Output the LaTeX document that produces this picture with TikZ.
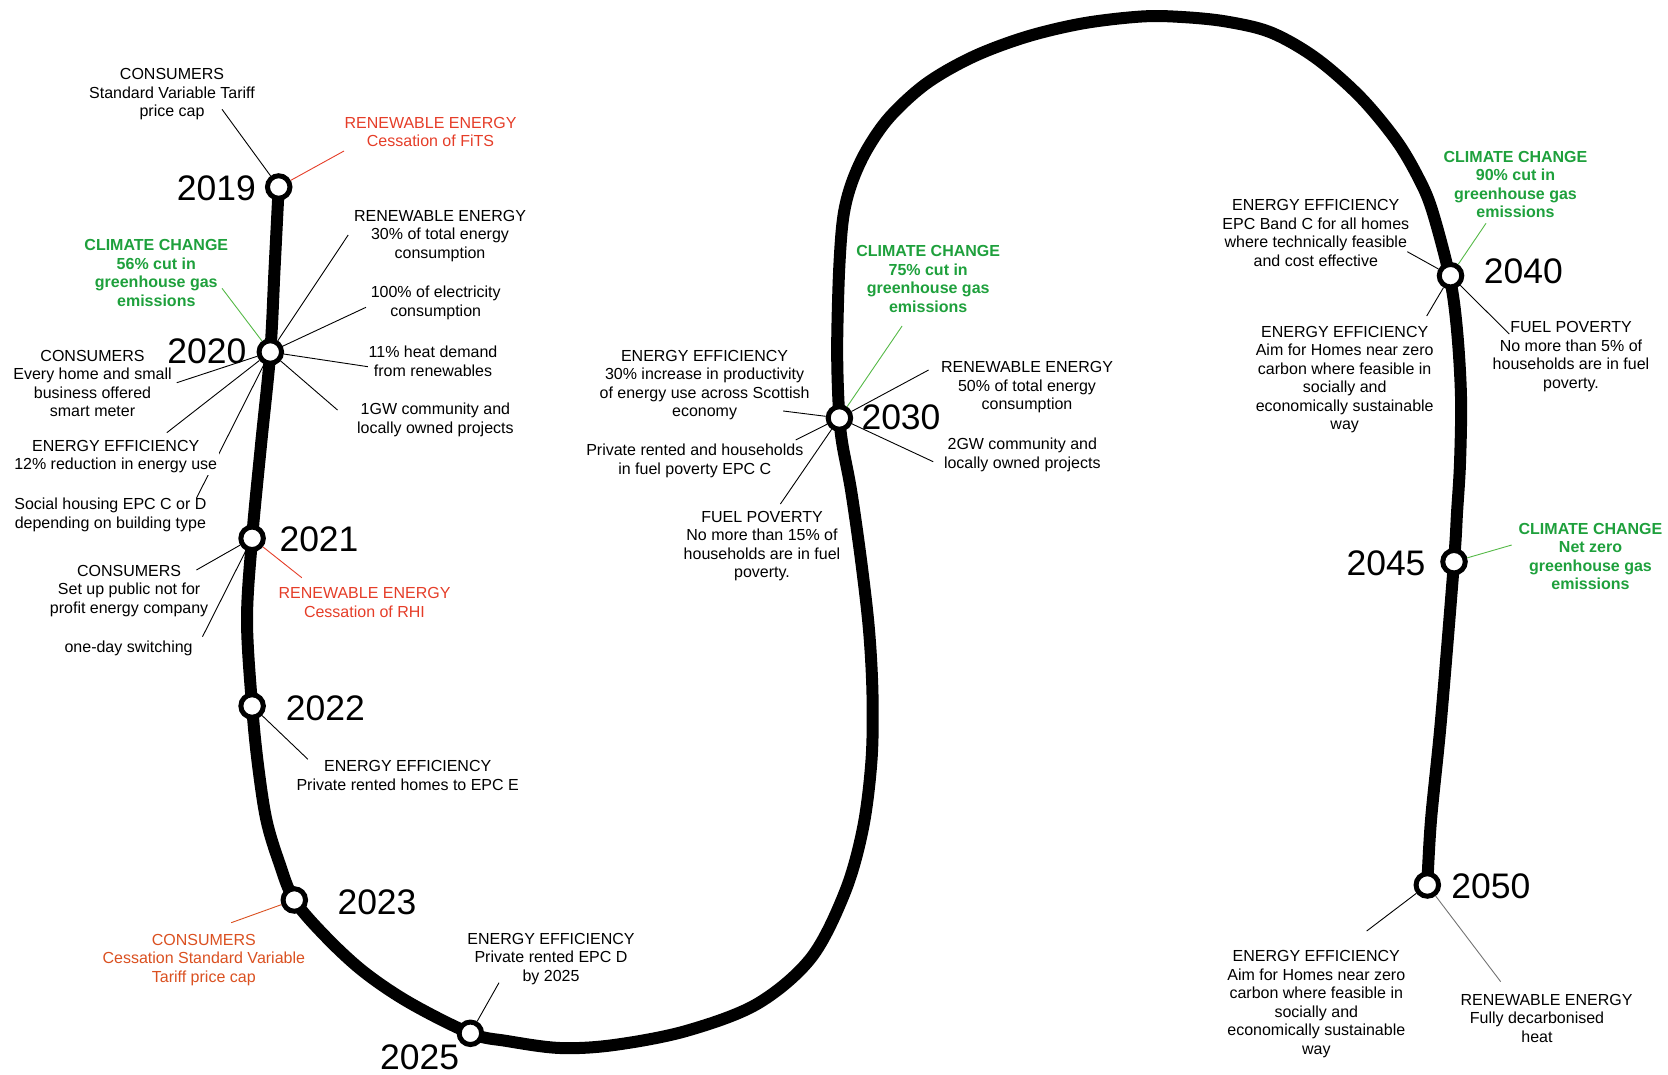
\documentclass[tikz,border=0pt]{standalone}
\usepackage{fontspec}
\setmainfont{Liberation Sans}
\definecolor{rd}{HTML}{E53D28}
\definecolor{org}{HTML}{DA5020}
\definecolor{grn}{HTML}{1EA03C}
\definecolor{grnl}{HTML}{55B947}
\tikzset{
  lbl/.style={font=\fontsize{16}{18.5}\selectfont, align=center, inner sep=2pt},
  cclbl/.style={font=\fontsize{16}{18.5}\selectfont\bfseries, align=center, inner sep=2pt, text=grn},
  yr/.style={font=\fontsize{35.5}{40}\selectfont, inner sep=0pt},
  stn/.style={circle, draw=black, line width=5pt, fill=white, minimum size=22.5pt, inner sep=0pt},
  conn/.style={line width=0.9pt},
  track/.style={line width=12pt, line join=round, line cap=round}
}
\begin{document}
\begin{tikzpicture}[x=1pt,y=-1pt]
\useasboundingbox (0,0) rectangle (1668,1075);
% track
\draw[track] plot[smooth, tension=0.55] coordinates {
 (278.7,187) (274.5,270) (270.3,352) (261,445) (252.1,538) (247,620) (252.1,706)
 (258,765) (266.4,820) (279,862) (294.3,900) (326,937) (364,972) (410,1003) (470.4,1033.3)
 (507,1041) (560,1048) (614,1045) (686,1031) (757,1004) (811,958) (845,892) (863,828)
 (871.5,760) (872.5,695) (869,630) (861,560) (851,490) (842.5,445) (839.4,418)
 (837.5,375) (837.3,333) (839.3,266.7) (843.3,216.7) (851.7,183) (866.7,150) (890,116.7)
 (926.7,83.3) (973.3,56.7) (1026.7,36.7) (1083.3,23.3) (1141.6,16.5) (1181.8,17) (1226,21.5)
 (1271,32.5) (1315.7,58) (1360,96.7) (1396,140) (1418,177) (1432,210) (1449.6,276.7)
 (1457,330) (1461,397) (1460,463) (1457,513) (1454,561.7) (1441,720) (1431,820) (1427.3,885)
};
% stations
\node[stn] (c2019) at (278.7,187) {};
\node[stn] (c2020) at (270.3,352) {};
\node[stn] (c2021) at (252.1,538.3) {};
\node[stn] (c2022) at (252.1,706) {};
\node[stn] (c2023) at (294.3,900) {};
\node[stn] (c2025) at (470.4,1033.3) {};
\node[stn] (c2030) at (839.4,418) {};
\node[stn] (c2040) at (1450.5,275.7) {};
\node[stn] (c2045) at (1454,561.7) {};
\node[stn] (c2050) at (1427.3,885) {};
% years
\node[yr] (y2019) at (216.4,188.3) {2019};
\node[yr] (y2020) at (206.8,351.7) {2020};
\node[yr] (y2021) at (319,539) {2021};
\node[yr] (y2022) at (325.4,708.5) {2022};
\node[yr] (y2023) at (377,902.5) {2023};
\node[yr] (y2025) at (419.7,1057.5) {2025};
\node[yr] (y2030) at (901,417) {2030};
\node[yr] (y2040) at (1523.3,270.8) {2040};
\node[yr] (y2045) at (1386,563.3) {2045};
\node[yr] (y2050) at (1490.8,885.8) {2050};
% connector free ends
\coordinate (e1) at (222,109.3);
\coordinate (e2) at (344,151);
\coordinate (e3) at (348.2,235);
\coordinate (e4) at (366,307.3);
\coordinate (e5) at (367.9,366.7);
\coordinate (e6) at (337.5,410);
\coordinate (e7) at (222,288.3);
\coordinate (e8) at (176.8,382.7);
\coordinate (e9) at (166.8,432.7);
\coordinate (e10) at (196.4,498.3);
\coordinate (e11) at (196.4,570);
\coordinate (e12) at (202.5,636.7);
\coordinate (e13) at (301.8,577.7);
\coordinate (e14) at (307.9,759.3);
\coordinate (e15) at (231.2,922.7);
\coordinate (e16) at (499,982.7);
\coordinate (e17) at (902.1,326);
\coordinate (e18) at (783.2,411);
\coordinate (e19) at (795.7,440);
\coordinate (e20) at (780.4,504);
\coordinate (e21) at (928.6,370);
\coordinate (e22) at (933.2,461.7);
\coordinate (e23) at (1486,223.3);
\coordinate (e24) at (1407.3,251.7);
\coordinate (e25) at (1426.7,316);
\coordinate (e26) at (1509.3,334);
\coordinate (e27) at (1511.7,545);
\coordinate (e28) at (1366.7,931);
\coordinate (e29) at (1500.7,981.7);
% connectors
\draw[conn] (e1) -- (c2019);
\draw[conn, rd] (e2) -- (c2019);
\draw[conn] (e3) -- (c2020);
\draw[conn] (e4) -- (c2020);
\draw[conn] (e5) -- (c2020);
\draw[conn] (e6) -- (c2020);
\draw[conn, grnl] (e7) -- (c2020);
\draw[conn] (e8) -- (c2020);
\draw[conn] (e9) -- (c2020);
\draw[conn] (e10) -- (c2020);
\draw[conn] (e11) -- (c2021);
\draw[conn] (e12) -- (c2021);
\draw[conn, rd] (e13) -- (c2021);
\draw[conn] (e14) -- (c2022);
\draw[conn, org] (e15) -- (c2023);
\draw[conn] (e16) -- (c2025);
\draw[conn, grnl] (e17) -- (c2030);
\draw[conn] (e18) -- (c2030);
\draw[conn] (e19) -- (c2030);
\draw[conn] (e20) -- (c2030);
\draw[conn] (e21) -- (c2030);
\draw[conn] (e22) -- (c2030);
\draw[conn, grnl] (e23) -- (c2040);
\draw[conn] (e24) -- (c2040);
\draw[conn] (e25) -- (c2040);
\draw[conn] (e26) -- (c2040);
\draw[conn, grnl] (e27) -- (c2045);
\draw[conn] (e28) -- (c2050);
\draw[conn, black!55] (e29) -- (c2050);
% labels
\node[lbl] (l1) at (172,94.5) {CONSUMERS\\Standard Variable Tariff\\price cap};
\node[lbl, text=rd] (l2) at (430.5,132.2) {RENEWABLE ENERGY\\Cessation of FiTS};
\node[lbl] (l3) at (440,235.7) {RENEWABLE ENERGY\\30\% of total energy\\consumption};
\node[lbl] (l4) at (435.7,303) {100\% of electricity\\consumption};
\node[lbl] (l5) at (433,361.3) {11\% heat demand\\from renewables};
\node[lbl] (l6) at (435.4,419.7) {1GW community and\\locally owned projects};
\node[cclbl] (l7) at (156.3,273) {CLIMATE CHANGE\\56\% cut in\\greenhouse gas\\emissions};
\node[lbl] (l8) at (92.5,383.7) {CONSUMERS\\Every home and small\\business offered\\smart meter};
\node[lbl, fill=white] (l9) at (115.7,456.8) {ENERGY EFFICIENCY\\12\% reduction in energy use};
\node[lbl] (l10) at (110.4,514.7) {Social housing EPC C or D\\depending on building type};
\node[lbl] (l11) at (129.1,591) {CONSUMERS\\Set up public not for\\profit energy company};
\node[lbl] (l12) at (128.6,648.3) {one-day switching};
\node[lbl, text=rd] (l13) at (364.5,602.5) {RENEWABLE ENERGY\\Cessation of RHI};
\node[lbl] (l14) at (407.7,775.5) {ENERGY EFFICIENCY\\Private rented homes to EPC E};
\node[lbl, text=org] (l15) at (203.8,960) {CONSUMERS\\Cessation Standard Variable\\Tariff price cap};
\node[lbl] (l16) at (551,959) {ENERGY EFFICIENCY\\Private rented EPC D\\by 2025};
\node[cclbl] (l17) at (928.2,279) {CLIMATE CHANGE\\75\% cut in\\greenhouse gas\\emissions};
\node[lbl] (l18) at (704.6,385.2) {ENERGY EFFICIENCY\\30\% increase in productivity\\of energy use across Scottish\\economy};
\node[lbl] (l19) at (694.8,460.8) {Private rented and households\\in fuel poverty EPC C};
\node[lbl] (l20) at (762,546) {FUEL POVERTY\\No more than 15\% of\\households are in fuel\\poverty.};
\node[lbl] (l21) at (1027,387.5) {RENEWABLE ENERGY\\50\% of total energy\\consumption};
\node[lbl] (l22) at (1022.3,454.7) {2GW community and\\locally owned projects};
\node[cclbl] (l23) at (1515.5,184.7) {CLIMATE CHANGE\\90\% cut in\\greenhouse gas\\emissions};
\node[lbl] (l24) at (1315.8,233) {ENERGY EFFICIENCY\\EPC Band C for all homes\\where technically feasible\\and cost effective};
\node[lbl] (l25) at (1344.7,379.5) {ENERGY EFFICIENCY\\Aim for Homes near zero\\carbon where feasible in\\socially and\\economically sustainable\\way};
\node[lbl] (l26) at (1571,356.7) {FUEL POVERTY\\No more than 5\% of\\households are in fuel\\poverty.};
\node[cclbl] (l27) at (1590.5,556.6) {CLIMATE CHANGE\\Net zero\\greenhouse gas\\emissions};
\node[lbl] (l28) at (1316.3,1004.2) {ENERGY EFFICIENCY\\Aim for Homes near zero\\carbon where feasible in\\socially and\\economically sustainable\\way};
\node[lbl] (l29) at (1537,1018) {\hspace*{19pt}RENEWABLE ENERGY\\Fully decarbonised\\heat};
\end{tikzpicture}
\end{document}
